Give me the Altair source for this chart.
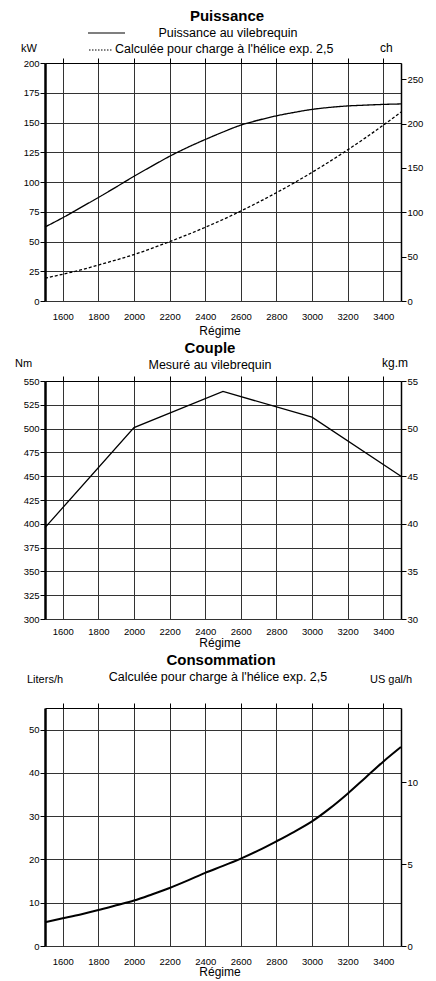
import altair as alt
import pandas as pd

# ---------------- data ----------------
rpm = [1500, 1600, 1700, 1800, 1900, 2000, 2100, 2200, 2300, 2400, 2500,
       2600, 2700, 2800, 2900, 3000, 3100, 3200, 3300, 3400, 3500]
puissance_kw = [62.2, 70.0, 78.5, 87.0, 95.8, 104.8, 113.3, 121.6, 129.0, 135.7, 142.0,
                147.8, 152.0, 155.6, 158.5, 161.0, 162.7, 163.9, 164.6, 165.2, 165.6]
helice_kw = [19.2, 22.5, 26.1, 30.2, 34.5, 39.0, 44.3, 49.9, 55.7, 61.9, 68.5,
             75.6, 83.1, 91.0, 99.3, 108.1, 117.3, 127.0, 137.1, 147.7, 158.8]
couple_rpm = [1500, 2000, 2500, 3000, 3500]
couple_nm = [396, 501, 539, 512, 450]
conso_lh = [5.5, 6.4, 7.3, 8.3, 9.4, 10.5, 11.9, 13.4, 15.1, 16.9, 18.5,
            20.2, 22.1, 24.2, 26.4, 28.8, 31.8, 35.2, 38.9, 42.6, 46.0]

x_ticks = [1600, 1800, 2000, 2200, 2400, 2600, 2800, 3000, 3200, 3400]
kw_ticks = [0, 25, 50, 75, 100, 125, 150, 175, 200]
ch_ticks = [0, 50, 100, 150, 200, 250]
nm_ticks = [300, 325, 350, 375, 400, 425, 450, 475, 500, 525, 550]
kgm_ticks = [30, 35, 40, 45, 50, 55]
lh_ticks = [0, 10, 20, 30, 40, 50]
gal_ticks = [0, 5, 10]

serie_names = ["Puissance au vilebrequin", "Calculée pour charge à l'hélice exp. 2,5"]

# ---------------- style ----------------
W = 356
H = 238
FONT = "Liberation Sans"
NARROW = "Liberation Sans Narrow, Liberation Sans"
GRID = "#333333"
ONE = pd.DataFrame({"a": [0]})

xs = alt.Scale(domain=[1500, 3500], nice=False, zero=False)


def x_bottom(pad):
    return alt.X("rpm:Q", scale=xs, axis=alt.Axis(
        orient="bottom", values=x_ticks, format="d", title=None, grid=True, gridColor=GRID,
        gridWidth=1, domain=False, ticks=False, labelFont=NARROW, labelFontSize=9.5,
        labelPadding=pad, labelColor="black", labelFlush=False))


def x_top():
    return alt.X("rpm:Q", scale=xs, axis=alt.Axis(
        orient="top", values=x_ticks, title=None, grid=False, domain=True,
        domainColor="black", domainWidth=1.2, ticks=True, tickSize=5,
        tickColor="black", tickWidth=1, labels=False))


def y_left(field, dom, vals):
    return alt.Y(field, scale=alt.Scale(domain=dom, nice=False, zero=False), axis=alt.Axis(
        orient="left", values=vals, format="d", title=None, grid=True, gridColor=GRID,
        gridWidth=1, domain=True, domainColor="black", domainWidth=2.5, ticks=True,
        tickSize=5, tickColor="black", labelFont=NARROW, labelFontSize=9.5,
        labelPadding=1, labelColor="black"))


def y_right(field, dom, vals):
    return alt.Y(field, scale=alt.Scale(domain=dom, nice=False, zero=False), axis=alt.Axis(
        orient="right", values=vals, format="d", title=None, grid=False, domain=True,
        domainColor="black", domainWidth=1.5, ticks=True, tickSize=5, tickColor="black",
        labelFont=NARROW, labelFontSize=9.5, labelPadding=1, labelColor="black"))


def txt(s, x, y, size=12.5, bold=False, align="left", font=FONT):
    return alt.Chart(ONE).mark_text(
        text=s, font=font, fontSize=size, fontWeight="bold" if bold else "normal",
        align=align, baseline="middle", color="black"
    ).encode(x=alt.value(x), y=alt.value(y))


def hrule(x1, x2, y, dash=None):
    kw = dict(color="black", strokeWidth=1.2)
    if dash:
        kw["strokeDash"] = dash
    return alt.Chart(ONE).mark_rule(**kw).encode(
        x=alt.value(x1), x2=alt.value(x2), y=alt.value(y))


# ---------------- Puissance ----------------
df_p = pd.DataFrame({
    "rpm": rpm * 2,
    "kw": puissance_kw + helice_kw,
    "serie": [serie_names[0]] * len(rpm) + [serie_names[1]] * len(rpm),
})
p_lines = alt.Chart(df_p).mark_line(color="black", strokeWidth=1.3, interpolate="monotone").encode(
    x=x_bottom(10),
    y=y_left("kw:Q", [0, 200], kw_ticks),
    strokeDash=alt.StrokeDash("serie:N", scale=alt.Scale(
        domain=serie_names, range=[[1, 0], [3, 2]]), legend=None),
    detail="serie:N",
)
p_right = alt.Chart(pd.DataFrame({"rpm": rpm, "kw": puissance_kw})).transform_calculate(
    ch="datum.kw * 1.341"
).mark_line(strokeOpacity=0).encode(
    x=x_top(), y=y_right("ch:Q", [0, 268.2], ch_ticks))

top = alt.layer(
    p_lines, p_right,
    txt("Puissance", 182, -47, size=15, bold=True, align="center"),
    hrule(43, 80, -30),
    txt(serie_names[0], 183, -30, align="center"),
    hrule(44, 68, -13, dash=[1.5, 1.5]),
    txt(serie_names[1], 70, -14),
    txt("kW", -24, -14, size=11, font=NARROW),
    txt("ch", 335, -15, size=12),
    txt("Régime", 175, H + 30, size=12, align="center"),
).resolve_scale(y="independent").resolve_axis(x="independent").properties(width=W, height=H)

# ---------------- Couple ----------------
df_c = pd.DataFrame({"rpm": couple_rpm, "nm": couple_nm})
c_line = alt.Chart(df_c).mark_line(color="black", strokeWidth=1.3).encode(
    x=x_bottom(7), y=y_left("nm:Q", [300, 550], nm_ticks))
c_right = alt.Chart(df_c).transform_calculate(kgm="datum.nm / 10").mark_line(
    strokeOpacity=0).encode(x=x_top(), y=y_right("kgm:Q", [30, 55], kgm_ticks))

mid = alt.layer(
    c_line, c_right,
    txt("Couple", 165, -33, size=15, bold=True, align="center"),
    txt("Mesuré au vilebrequin", 165, -16, align="center"),
    txt("Nm", -30, -17, size=11, font=NARROW),
    txt("kg.m", 337, -18, size=12),
    txt("Régime", 175, H + 24, size=12, align="center"),
).resolve_scale(y="independent").resolve_axis(x="independent").properties(width=W, height=H)

# ---------------- Consommation ----------------
df_k = pd.DataFrame({"rpm": rpm, "lh": conso_lh})
k_line = alt.Chart(df_k).mark_line(color="black", strokeWidth=2, interpolate="monotone").encode(
    x=x_bottom(10), y=y_left("lh:Q", [0, 55], lh_ticks))
k_right = alt.Chart(df_k).transform_calculate(gal="datum.lh / 3.785").mark_line(
    strokeOpacity=0).encode(x=x_top(), y=y_right("gal:Q", [0, 55 / 3.785], gal_ticks))

bot = alt.layer(
    k_line, k_right,
    txt("Consommation", 176, -48, size=15, bold=True, align="center"),
    txt(serie_names[1], 173, -31, align="center"),
    txt("Liters/h", -18, -28, size=11, font=NARROW),
    txt("US gal/h", 325, -28, size=11, font=NARROW),
    txt("Régime", 175, H + 26, size=12, align="center"),
).resolve_scale(y="independent").resolve_axis(x="independent").properties(width=W, height=H)

chart = alt.vconcat(top, mid, bot, spacing=4).configure_view(stroke=None).properties(
    padding={"left": 7, "top": 1, "right": 5, "bottom": 5})

chart.save("out.html", embed_options={"renderer": "svg", "actions": False})
